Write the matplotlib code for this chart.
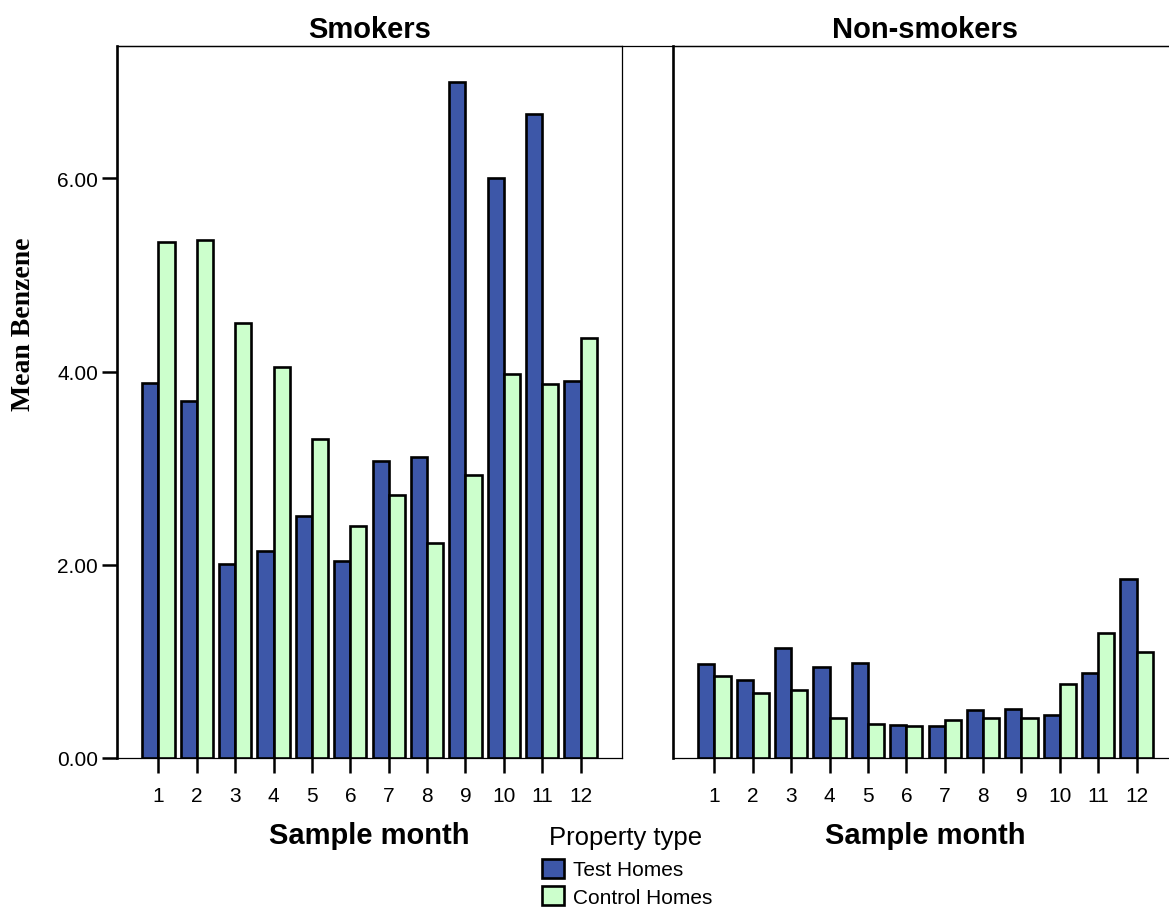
import numpy as np
import matplotlib
matplotlib.use('Agg')
import matplotlib.pyplot as plt
from matplotlib.patches import Patch
from matplotlib.lines import Line2D

plt.rcParams['font.family'] = ['Liberation Sans', 'DejaVu Sans']

months = list(range(1, 13))
panels = ['Smokers', 'Non-smokers']
series = ['Test Homes', 'Control Homes']

smokers_test = [3.88, 3.70, 2.01, 2.14, 2.50, 2.04, 3.07, 3.12, 7.00, 6.00, 6.67, 3.90]
smokers_control = [5.34, 5.36, 4.50, 4.05, 3.30, 2.40, 2.72, 2.23, 2.93, 3.98, 3.87, 4.35]
nonsmokers_test = [0.97, 0.81, 1.14, 0.94, 0.98, 0.34, 0.33, 0.50, 0.51, 0.45, 0.88, 1.85]
nonsmokers_control = [0.85, 0.67, 0.70, 0.41, 0.35, 0.33, 0.39, 0.41, 0.41, 0.77, 1.29, 1.10]

yticks = [0, 2, 4, 6]
ytick_labels = ['0.00', '2.00', '4.00', '6.00']

colors = ['#3d57a8', '#ccffcc']

W, H = 1169, 912
fig = plt.figure(figsize=(W / 100, H / 100), dpi=100)

top_px, bot_px = 47, 759
ax_w_px = 505
lefts = [117, 673]
data = [(smokers_test, smokers_control), (nonsmokers_test, nonsmokers_control)]

x = np.array(months)
bw = 0.42
axes = []
for i, (name, (t, c)) in enumerate(zip(panels, data)):
    ax = fig.add_axes([lefts[i] / W, 1 - bot_px / H, ax_w_px / W, (bot_px - top_px) / H])
    ax.bar(x - bw / 2, t, bw, color=colors[0], edgecolor='black', linewidth=1.9, zorder=3)
    ax.bar(x + bw / 2, c, bw, color=colors[1], edgecolor='black', linewidth=1.9, zorder=3)
    ax.set_xlim(-0.08, 13.08)
    ax.set_ylim(0, 7.37)
    ax.set_xticks(months)
    ax.set_xticklabels([str(m) for m in months], fontsize=15)
    ax.tick_params(axis='x', length=11, width=1.8, pad=9, direction='out')
    ax.set_yticks(yticks)
    if i == 0:
        ax.set_yticklabels(ytick_labels, fontsize=15)
        ax.tick_params(axis='y', length=11, width=1.8, pad=2.5, direction='out')
    else:
        ax.tick_params(axis='y', left=False, labelleft=False)
    ax.spines['left'].set_linewidth(1.9)
    ax.spines['top'].set_linewidth(0.9)
    ax.spines['right'].set_linewidth(0.9)
    ax.spines['bottom'].set_linewidth(0.9)
    if i == 1:
        ax.spines['right'].set_visible(False)
    cx = (lefts[i] + ax_w_px / 2) / W
    fig.text(cx, 1 - 38 / H, name, ha='center', va='baseline', fontsize=21, fontweight='bold')
    fig.text(cx, 1 - 844 / H, 'Sample month', ha='center', va='baseline', fontsize=21, fontweight='bold')
    axes.append(ax)

# top line continues across the gap between the panels
fig.add_artist(Line2D([lefts[0] / W, 1], [1 - top_px / H, 1 - top_px / H], color='black', linewidth=0.9))

fig.text(23.5 / W, 1 - 324 / H, 'Mean Benzene', rotation=90, ha='center', va='center',
         fontsize=20, fontweight='bold', family=['Liberation Serif', 'DejaVu Serif'])

fig.text(549 / W, 1 - 845 / H, 'Property type', ha='left', va='baseline', fontsize=18.5)
handles = [Patch(facecolor=colors[k], edgecolor='black', linewidth=1.9) for k in range(2)]
leg = fig.legend(handles, series, loc='upper left',
                 bbox_to_anchor=(527 / W, 1 - 845 / H), frameon=False, fontsize=15,
                 handlelength=1.1, handleheight=1.05,
                 handletextpad=0.4, labelspacing=0.32, borderpad=0.2)

fig.savefig('out.png', dpi=100)
